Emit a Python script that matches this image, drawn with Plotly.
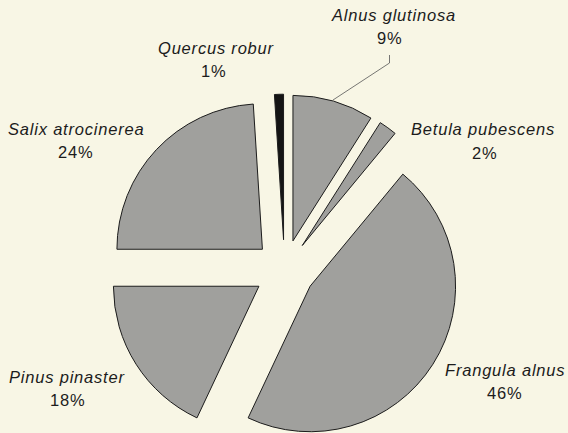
import plotly.graph_objects as go

# Share of each tree species (percent), listed clockwise from 12 o'clock
species = ["Alnus glutinosa", "Betula pubescens", "Frangula alnus",
           "Pinus pinaster", "Salix atrocinerea", "Quercus robur"]
shares = [9, 2, 46, 18, 24, 1]

# Label placement in pixels from the top-left: (name x, name y, percent x, percent y)
label_px = {
    "Alnus glutinosa": (393, 15, 389, 38),
    "Betula pubescens": (483, 129, 484, 153),
    "Frangula alnus": (505, 370, 504, 393),
    "Pinus pinaster": (67, 377, 67, 400),
    "Salix atrocinerea": (76, 129, 75, 152),
    "Quercus robur": (216, 48, 213, 71),
}

W, H = 568, 446
BG = "#f8f6e5"
INK = "#1c1c1c"


def px(x):
    return x / W


def py(y):
    return (H - y) / H


# Pie geometry: centre, outer radius and explode distance in pixels
cx, cy, R, gap = 284.5, 270.0, 145.5, 30.3
pull = gap / R
half = R * (1 + pull)

fill_colors = ["#b2b2ae" if s != "Quercus robur" else "#141414" for s in species]
shapes_pat = ["." if s != "Quercus robur" else "" for s in species]

fig = go.Figure(go.Pie(
    labels=species,
    values=shares,
    sort=False,
    direction="clockwise",
    rotation=0,
    pull=[pull] * len(species),
    textinfo="none",
    hoverinfo="label+percent",
    marker=dict(
        colors=fill_colors,
        line=dict(color=INK, width=1),
        pattern=dict(shape=shapes_pat, fgcolor="#8a8a88", bgcolor=fill_colors,
                     size=2, solidity=0.5, fillmode="replace"),
    ),
    domain=dict(x=[px(cx - half), px(cx + half)],
                y=[max(py(cy + half), 0), py(cy - half)]),
    showlegend=False,
))

font = dict(family="Liberation Sans, Arial, sans-serif", size=16.5, color=INK)
annotations = []
for name, val in zip(species, shares):
    nx, ny, vx, vy = label_px[name]
    annotations.append(dict(
        x=px(nx), y=py(ny), xref="paper", yref="paper",
        xanchor="center", yanchor="middle", showarrow=False,
        text=f'<span style="letter-spacing:0.8px"><i>{name}</i></span>', font=font,
    ))
    annotations.append(dict(
        x=px(vx), y=py(vy), xref="paper", yref="paper",
        xanchor="center", yanchor="middle", showarrow=False,
        text=f'<span style="letter-spacing:0.8px">{val}%</span>', font=font,
    ))

# Leader line from the Alnus glutinosa label down to its slice
leader = dict(
    type="path", xref="paper", yref="paper",
    path=f"M {px(389.5)} {py(55)} L {px(389.5)} {py(63)} L {px(333)} {py(100)}",
    line=dict(color="#555555", width=0.8),
)

fig.update_layout(
    width=W, height=H,
    margin=dict(l=0, r=0, t=0, b=0),
    paper_bgcolor=BG, plot_bgcolor=BG,
    annotations=annotations,
    shapes=[leader],
)

fig.write_html(
    "out.html",
    post_script="document.documentElement.style.overflow='hidden';"
                "document.body.style.overflow='hidden';"
                "document.body.style.background='" + BG + "';",
)
